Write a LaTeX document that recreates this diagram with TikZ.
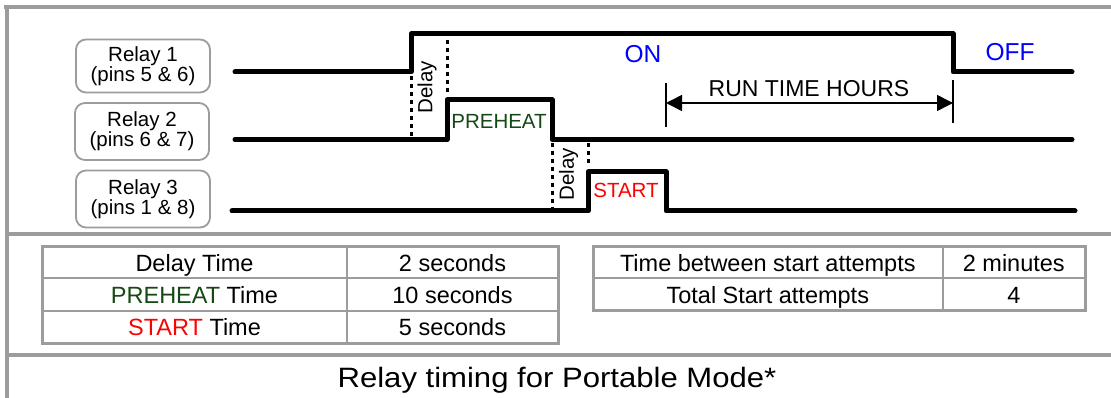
\documentclass[tikz,border=0pt]{standalone}
\usepackage{fontspec}
\setmainfont{Liberation Sans}
\newfontfamily\titleFont[FakeStretch=1.11]{Liberation Sans}
\usetikzlibrary{arrows.meta,positioning}
\definecolor{frameGray}{HTML}{9C9C9C}
\definecolor{preheatGreen}{RGB}{20,72,20}
\newcommand{\relayText}[2]{Relay #1\\(pins #2)}
\tikzset{
  relaybox/.style={draw=frameGray, line width=1.8pt, rounded corners=10pt,
    minimum width=134pt, align=center, inner sep=0pt,
    font=\fontsize{20.5}{19}\selectfont},
  signal/.style={line width=5pt, line cap=round, line join=round},
  delayline/.style={line width=3pt, dash pattern=on 4.5pt off 3.5pt},
  frameline/.style={draw=frameGray, line width=4pt},
  cell/.style={draw=frameGray, line width=2pt, outer sep=0pt, inner sep=0pt,
    minimum height=32.3pt, text height=18pt, text depth=0pt,
    font=\fontsize{23.5}{26}\selectfont},
  smalltext/.style={font=\fontsize{20.5}{22}\selectfont},
  dimtip/.style={{Triangle[length=16pt,width=16pt]}-{Triangle[length=16pt,width=16pt]}},
}

\begin{document}
\begin{tikzpicture}[x=1pt,y=-1pt]
\useasboundingbox (0,0) rectangle (1111,398);
% frame
\draw[frameline] (7,5) -- (7,398);
\draw[frameline] (4,7) -- (1111,7);
\draw[frameline, line width=3.5pt] (7,234) -- (1111,234);
\draw[frameline, line width=3.5pt] (7,355) -- (1111,355);

% relay labels
\node[relaybox, minimum height=53pt] (r1) at (143,66) {\relayText{1}{5 \& 6}};
\node[relaybox, minimum height=57pt] (r2) at (142,131.5) {\relayText{2}{6 \& 7}};
\node[relaybox, minimum height=57pt] (r3) at (143,199) {\relayText{3}{1 \& 8}};

% signals
\coordinate (s1) at (235,72);
\coordinate (e1) at (1072,72);
\coordinate (s2) at (235,139.5);
\coordinate (e2) at (1072,139.5);
\coordinate (s3) at (232,211);
\coordinate (e3) at (1075,211);
\draw[signal] (s1) -- (411,72) |- (953,34) |- (e1);
\draw[signal] (s2) -- (447,139.5) |- (552,100) |- (e2);
\draw[signal] (s3) -- (588,211) |- (666,172) |- (e3);

% delays
\draw[delayline] (411,76) -- (411,137);
\draw[delayline] (447,40) -- (447,94);
\draw[delayline] (552,143) -- (552,210);
\draw[delayline] (588,143) -- (588,166);
\node[smalltext, rotate=90] (d1) at (427,87) {Delay};
\node[smalltext, rotate=90] (d2) at (568.5,174) {Delay};

% state labels
\node[font=\fontsize{24.5}{26}\selectfont, text=blue, anchor=base] (on) at (643,62.5) {ON};
\node[font=\fontsize{24.5}{26}\selectfont, text=blue, anchor=base] (off) at (1010,61) {OFF};
\node[smalltext, text=preheatGreen, anchor=base] (ph) at (499,129) {PREHEAT};
\node[smalltext, text=red, anchor=base] (st) at (626,198) {START};

% run time
\coordinate (tA) at (666,103);
\coordinate (tB) at (953,103);
\draw[line width=1.5pt] (666,83) -- (666,127);
\draw[line width=1.5pt] (953,80) -- (953,123);
\draw[dimtip, line width=1.5pt] (tA) -- (tB);
\node[font=\fontsize{23}{25}\selectfont, anchor=base] (rt) at (809,96.5) {RUN TIME HOURS};

% time table
\node[cell, minimum width=305pt] (a11) at (194.5,262.3) {Delay Time};
\node[cell, minimum width=211pt, right=0pt of a11] (a12) {2 seconds};
\node[cell, minimum width=305pt, below=0pt of a11] (a21) {\textcolor{preheatGreen}{PREHEAT} Time};
\node[cell, minimum width=211pt, right=0pt of a21] (a22) {10 seconds};
\node[cell, minimum width=305pt, below=0pt of a21] (a31) {\textcolor{red}{START} Time};
\node[cell, minimum width=211pt, right=0pt of a31] (a32) {5 seconds};
\draw[frameGray, line width=3pt] (a11.north west) rectangle (a32.south east);

% attempts table
\node[cell, minimum width=349.5pt] (b11) at (767.8,262.2) {Time between start attempts};
\node[cell, minimum width=142.5pt, right=0pt of b11] (b12) {2 minutes};
\node[cell, minimum width=349.5pt, below=0pt of b11] (b21) {Total Start attempts};
\node[cell, minimum width=142.5pt, right=0pt of b21] (b22) {4};
\draw[frameGray, line width=3pt] (b11.north west) rectangle (b22.south east);

% caption
\node[font=\titleFont\fontsize{28}{30}\selectfont, anchor=base] (cap) at (557,387) {Relay timing for Portable Mode*};
\end{tikzpicture}
\end{document}
